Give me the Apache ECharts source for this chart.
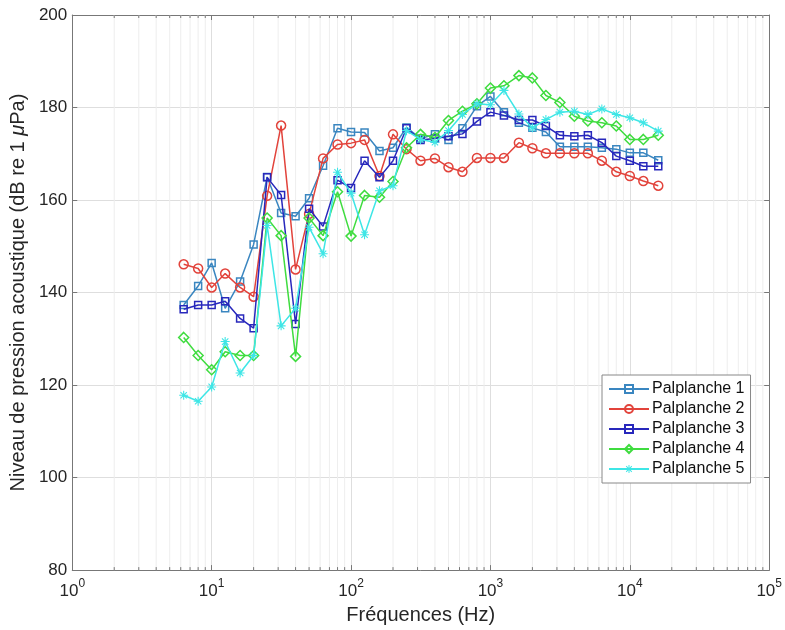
<!DOCTYPE html>
<html>
<head>
<meta charset="utf-8">
<script src="https://cdn.jsdelivr.net/npm/echarts@6/dist/echarts.min.js"></script>
<style>
  html, body { margin: 0; padding: 0; background: #fff; }
  #chart { width: 785px; height: 630px; }
</style>
</head>
<body>
<div id="chart"></div>
<script>
// third-octave centre frequencies (Hz)
const freqs = [6.3, 8, 10, 12.5, 16, 20, 25, 31.5, 40, 50, 63, 80, 100, 125, 160, 200, 250, 315,
  400, 500, 630, 800, 1000, 1250, 1600, 2000, 2500, 3150, 4000, 5000, 6300, 8000, 10000, 12500, 16000];

const palplanche1 = [137.3, 141.4, 146.4, 136.6, 142.4, 150.4, 165, 157.2, 156.5, 160.4, 167.4, 175.5,
  174.7, 174.6, 170.6, 171.3, 175.7, 173.3, 174.2, 173, 175.5, 180.3, 182.4, 179, 176.7, 175.6, 174.7,
  171.5, 171.5, 171.5, 171.3, 171, 170.2, 170.2, 168.6];
const palplanche2 = [146.1, 145.2, 141.1, 144.1, 141.1, 139.1, 160.9, 176.1, 145, 157, 169, 172,
  172.3, 173, 165.2, 174.2, 171, 168.5, 169, 167.1, 166.1, 169.1, 169.1, 169.1, 172.4, 171.2, 170.1,
  170.1, 170.1, 170.1, 168.5, 166.1, 165.2, 164.1, 163.1];
const palplanche3 = [136.4, 137.3, 137.3, 138.1, 134.4, 132.3, 164.9, 161.1, 133.2, 158.1, 154.3, 164.3,
  162.6, 168.5, 164.9, 168.5, 175.5, 173, 173.3, 173.8, 174.3, 177, 179, 178.3, 177.3, 177.3, 176,
  174, 173.8, 174, 172.4, 169.5, 168.5, 167.3, 167.3];
const palplanche4 = [130.3, 126.4, 123.3, 127.2, 126.4, 126.4, 156.1, 152.3, 126.2, 156.1, 152.3, 161.8,
  152.2, 161, 160.6, 164, 171.3, 174.2, 173.5, 177.2, 179.2, 180.8, 184.2, 184.7, 186.9, 186.4, 182.6,
  181.1, 178.1, 177.1, 176.7, 176, 173.1, 173.1, 174];
const palplanche5 = [117.8, 116.5, 119.6, 129.4, 122.6, 126.4, 154.5, 132.8, 136.6, 154.1, 148.4, 166,
  161.5, 152.5, 162, 163.1, 175, 173.1, 172.5, 175, 178.5, 180.8, 180.6, 183.7, 178.6, 175.6, 177.4,
  179, 179.2, 178.5, 179.7, 178.5, 177.8, 176.7, 174.9];

// log-axis minor tick positions
const minorTicks = [2, 3, 4, 5, 6, 7, 8, 9, 20, 30, 40, 50, 60, 70, 80, 90,
  200, 300, 400, 500, 600, 700, 800, 900, 2000, 3000, 4000, 5000, 6000, 7000, 8000, 9000,
  20000, 30000, 40000, 50000, 60000, 70000, 80000, 90000];

const names = ['Palplanche 1', 'Palplanche 2', 'Palplanche 3', 'Palplanche 4', 'Palplanche 5'];
const colors = ['#3a86c0', '#e2433b', '#2828bc', '#3fdc3f', '#3ee6e6'];

const asterisk = 'path://M-0.6,-5L0.6,-5L0.6,5L-0.6,5Z M-5,-0.6L5,-0.6L5,0.6L-5,0.6Z ' +
  'M-3.96,-3.11L-3.11,-3.96L3.96,3.11L3.11,3.96Z M3.11,-3.96L3.96,-3.11L-3.11,3.96L-3.96,3.11Z';
const symbols = ['rect', 'circle', 'rect', 'diamond', asterisk];
const symbolSizes = [7, 9, 7, 10, 9];

const chart = echarts.init(document.getElementById('chart'));

const lineSeries = [palplanche1, palplanche2, palplanche3, palplanche4, palplanche5].map((vals, i) => ({
  name: names[i],
  type: 'line',
  data: freqs.map((f, j) => [f, vals[j]]),
  symbol: symbols[i],
  symbolSize: symbolSizes[i],
  showAllSymbol: true,
  lineStyle: { color: colors[i], width: 1.5 },
  itemStyle: i === 4
    ? { color: colors[i], borderWidth: 0 }
    : { color: 'rgba(255,255,255,0)', borderColor: colors[i], borderWidth: 1.5 },
  emphasis: { disabled: true },
  z: 3 + i
}));

// minor grid lines and minor ticks for the log axis
const minorSeries = {
  type: 'custom',
  silent: true,
  z: 1,
  data: minorTicks.map(v => [v]),
  encode: { x: 0 },
  renderItem: function (params, api) {
    const v = api.value(0);
    const top = api.coord([v, 200]);
    const bot = api.coord([v, 80]);
    return {
      type: 'group',
      children: [
        { type: 'line', shape: { x1: bot[0], y1: bot[1], x2: top[0], y2: top[1] },
          style: { stroke: '#eeeeee', lineWidth: 1 } },
        { type: 'line', shape: { x1: bot[0], y1: bot[1], x2: bot[0], y2: bot[1] - 3 },
          style: { stroke: '#777', lineWidth: 1 } },
        { type: 'line', shape: { x1: top[0], y1: top[1], x2: top[0], y2: top[1] + 3 },
          style: { stroke: '#777', lineWidth: 1 } }
      ]
    };
  }
};

const axisColor = '#777';
const textColor = '#262626';
const font = 'Liberation Sans, Arial, sans-serif';

const option = {
  animation: false,
  backgroundColor: '#fff',
  textStyle: { fontFamily: font },
  grid: { left: 69, right: 14, top: 15, bottom: 57 },
  legend: {
    data: names,
    orient: 'vertical',
    left: 602,
    top: 375,
    itemWidth: 40,
    itemHeight: 10,
    itemGap: 4,
    padding: [6, 6, 6, 6],
    backgroundColor: '#fff',
    borderColor: '#888',
    borderWidth: 1,
    borderRadius: 0,
    textStyle: { fontSize: 16, lineHeight: 16, color: '#111', fontFamily: font, padding: [0, 0, 0, -2] }
  },
  xAxis: [
    {
      type: 'log',
      logBase: 10,
      min: 1,
      max: 100000,
      splitNumber: 5,
      name: 'Fréquences (Hz)',
      nameLocation: 'middle',
      nameGap: 32,
      nameTextStyle: { fontSize: 20, color: textColor, fontFamily: font },
      axisLine: { lineStyle: { color: axisColor } },
      axisTick: { inside: true, length: 5, lineStyle: { color: axisColor } },
      axisLabel: {
        margin: 8,
        color: textColor,
        formatter: function (v) {
          return '{b|10}{s|' + Math.round(Math.log10(v)) + '}';
        },
        rich: {
          b: { fontSize: 17, color: textColor, fontFamily: font, lineHeight: 22, verticalAlign: 'bottom' },
          s: { fontSize: 12, color: textColor, fontFamily: font, lineHeight: 22, verticalAlign: 'top' }
        }
      },
      splitLine: { show: true, lineStyle: { color: '#dedede' } }
    },
    {
      type: 'log',
      logBase: 10,
      min: 1,
      max: 100000,
      splitNumber: 5,
      position: 'top',
      axisLine: { lineStyle: { color: axisColor } },
      axisTick: { inside: true, length: 5, lineStyle: { color: axisColor } },
      axisLabel: { show: false },
      splitLine: { show: false }
    }
  ],
  yAxis: [
    {
      type: 'value',
      min: 80,
      max: 200,
      interval: 20,
      name: 'Niveau de pression acoustique (dB re 1 {i|μ}Pa)',
      nameLocation: 'middle',
      nameGap: 34,
      nameTextStyle: {
        fontSize: 20, color: textColor, fontFamily: font,
        rich: { i: { fontSize: 20, fontStyle: 'italic', color: textColor, fontFamily: font } }
      },
      axisLine: { show: true, lineStyle: { color: axisColor } },
      axisTick: { show: true, inside: true, length: 5, lineStyle: { color: axisColor } },
      axisLabel: { margin: 5, fontSize: 17, color: textColor },
      splitLine: { show: true, lineStyle: { color: '#dedede' } }
    },
    {
      type: 'value',
      min: 80,
      max: 200,
      interval: 20,
      position: 'right',
      axisLine: { show: true, lineStyle: { color: axisColor } },
      axisTick: { show: true, inside: true, length: 5, lineStyle: { color: axisColor } },
      axisLabel: { show: false },
      splitLine: { show: false }
    }
  ],
  series: [minorSeries].concat(lineSeries)
};

chart.setOption(option);
</script>
</body>
</html>
